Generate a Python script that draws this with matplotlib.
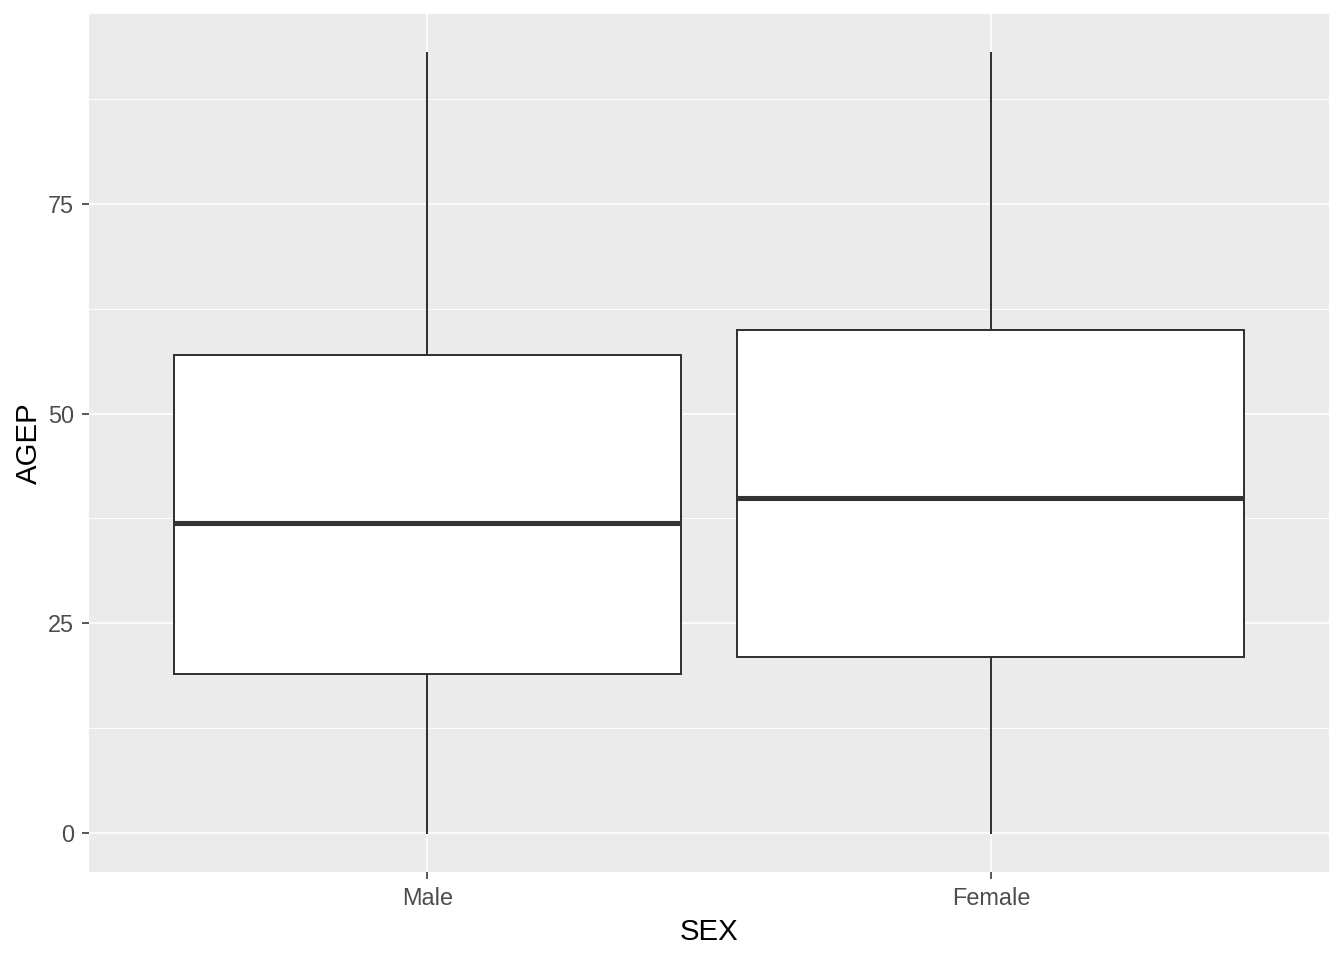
import matplotlib
matplotlib.use("Agg")
import matplotlib.pyplot as plt

plt.rcParams['font.family'] = ['Liberation Sans', 'DejaVu Sans']

# Box statistics
groups = ['Male', 'Female']
whisker_low = [0, 0]
q1 = [19, 21]
median = [37, 40]
q3 = [57, 60]
whisker_high = [93, 93]

y_ticks = [0, 25, 50, 75]
y_minor = [12.5, 37.5, 62.5, 87.5]

stats = []
for i, g in enumerate(groups):
    stats.append({'label': g, 'whislo': whisker_low[i], 'q1': q1[i], 'med': median[i],
                  'q3': q3[i], 'whishi': whisker_high[i], 'fliers': []})

fig = plt.figure(figsize=(7, 5), dpi=192)
ax = fig.add_axes([89 / 1344, 88 / 960, 1240 / 1344, 858 / 960])
ax.set_facecolor('#EBEBEB')

lw = 0.75
ax.bxp(stats, positions=[1, 2], widths=0.9, patch_artist=True, showcaps=False,
       boxprops=dict(facecolor='white', edgecolor='#333333', linewidth=lw),
       whiskerprops=dict(color='#333333', linewidth=lw),
       medianprops=dict(color='#333333', linewidth=1.9, solid_capstyle='butt'),
       zorder=3)

ax.set_xlim(0.4, 2.6)
ax.set_ylim(-4.65, 97.65)
ax.set_xticks([1, 2])
ax.set_xticklabels(groups)
ax.set_yticks(y_ticks)
ax.set_yticks(y_minor, minor=True)

ax.grid(True, which='major', color='white', linewidth=0.6, zorder=0)
ax.grid(True, which='minor', axis='y', color='white', linewidth=0.35, zorder=0)
ax.set_axisbelow(True)
for s in ax.spines.values():
    s.set_visible(False)

ax.tick_params(which='major', length=2.75, width=0.6, color='#333333',
               labelsize=8.8, labelcolor='#4D4D4D', pad=2.8)
ax.tick_params(which='minor', length=0)

ax.set_xlabel('SEX', fontsize=11, color='black', labelpad=3)
ax.set_ylabel('AGEP', fontsize=11, color='black', labelpad=1.8)

fig.savefig('out.png', dpi=192, facecolor='white')
